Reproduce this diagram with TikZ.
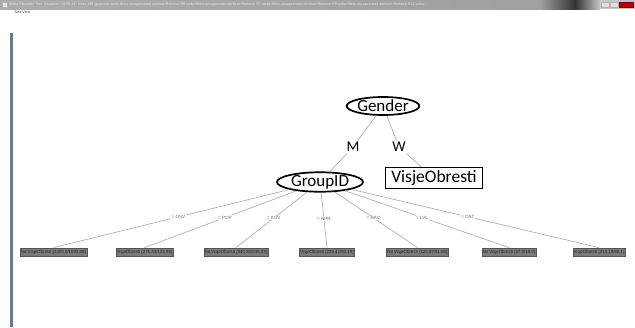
\documentclass[tikz,border=0pt]{standalone}
\usepackage{fontspec}
\setmainfont{Carlito}
\newfontfamily\uifont{Liberation Sans}
\usetikzlibrary{shapes.geometric}
\definecolor{edgegray}{HTML}{B0B0B0}
\definecolor{leafgray}{HTML}{7A7A7A}
\definecolor{sidebar}{HTML}{6E7A8C}
\tikzset{
  x=1pt, y=-1pt,
  splitnode/.style={draw=black, line width=1.7pt, ellipse, inner sep=0pt, font=\fontsize{17}{17}\selectfont},
  leafclass/.style={draw=black, line width=1.7pt, rectangle, inner sep=0pt, font=\fontsize{17.5}{17.5}\selectfont},
  branchval/.style={inner sep=1.5pt, font=\fontsize{15}{15}\selectfont},
  leafbox/.style={fill=leafgray, draw=leafgray!70!black, line width=0.3pt, minimum height=8.5pt, inner sep=0.8pt, font=\uifont\fontsize{4.4}{4.4}\selectfont, text=black!85},
  edgelbl/.style={fill=white, inner sep=0.6pt, font=\uifont\fontsize{4.6}{4.6}\selectfont, text=black!60},
  treeedge/.style={draw=edgegray, line width=0.7pt}
}
\begin{document}
\begin{tikzpicture}
\useasboundingbox (0,0) rectangle (635,327);
\fill[white] (0,0) rectangle (635,327);
% window title bar
\shade[left color=gray!65, right color=gray!75] (0,0) rectangle (540,9);
\shade[left color=gray!75, right color=black!80] (540,0) rectangle (575,9);
\shade[left color=black!80, right color=gray!45] (575,0) rectangle (600,9);
\fill[gray!45] (600,0) rectangle (635,9);
\fill[gray!25, draw=gray!60, line width=0.3pt] (601,2) rectangle (609,7);
\fill[gray!25, draw=gray!60, line width=0.3pt] (610,2) rectangle (618,7);
\fill[red!75!black, draw=red!50!black, line width=0.3pt] (619,2) rectangle (633,7);
\fill[gray!20, draw=gray!60, line width=0.3pt] (2,2) rectangle (7,7);
\node[anchor=west, inner sep=0pt, font=\uifont\fontsize{3.6}{3.6}\selectfont, text=white!90!black] (title) at (9,4.6)
  {Weka Classifier Tree Visualizer: 18:05:44 - trees.J48 (gogoobs-weka.filters.unsupervised.attribute.Remove-R8-weka.filters.unsupervised.attribute.Remove-R7-weka.filters.unsupervised.attribute.Remove-R9-weka.filters.unsupervised.attribute.Remove-R12-weka...};
\node[anchor=west, inner sep=0pt, font=\uifont\fontsize{3.6}{3.6}\selectfont, text=black!80] (menu) at (14,12.5) {Tree View};
% left border of the panel
\fill[sidebar] (10,33) rectangle (13,327);

% nodes
\node[splitnode, minimum width=72pt, minimum height=18pt] (gender) at (383,106) {Gender};
\node[branchval] (m) at (353,147) {M};
\node[branchval] (w) at (399,147) {W};
\node[splitnode, minimum width=86pt, minimum height=18pt] (group) at (320,182) {GroupID};
\node[leafclass, minimum width=97pt, minimum height=21pt] (visje) at (434,178) {VisjeObresti};

\node[leafbox] (l1) at (53.5,252) {Ne VisjeObresti (2420.0/1032.69)};
\node[leafbox] (l2) at (144.5,252) {VisjeObresti (271.33/123.55)};
\node[leafbox] (l3) at (236,252) {Ne VisjeObresti (540.81/245.23)};
\node[leafbox] (l4) at (327,252) {VisjeObresti (223.42/83.19)};
\node[leafbox] (l5) at (417.5,252) {Ne VisjeObresti (123.97/51.65)};
\node[leafbox] (l6) at (509,252) {Ne VisjeObresti (37.0/18.0)};
\node[leafbox] (l7) at (599,252) {VisjeObresti (213.19/80.1)};

% edges
\path[treeedge] (gender) -- (m);
\path[treeedge] (m) -- (group);
\path[treeedge] (gender) -- (w);
\path[treeedge] (w) -- (visje);

\path[treeedge] (group) -- node[edgelbl, pos=0.47] {= OSV} (l1.north);
\path[treeedge] (group) -- node[edgelbl, pos=0.47] {= POP} (l2.north);
\path[treeedge] (group) -- node[edgelbl, pos=0.47] {= KOV} (l3.north);
\path[treeedge] (group) -- node[edgelbl, pos=0.47] {= NPR} (l4.north);
\path[treeedge] (group) -- node[edgelbl, pos=0.47] {= RAO} (l5.north);
\path[treeedge] (group) -- node[edgelbl, pos=0.47] {= LVL} (l6.north);
\path[treeedge] (group) -- node[edgelbl, pos=0.47] {= OST} (l7.north);
\end{tikzpicture}
\end{document}
